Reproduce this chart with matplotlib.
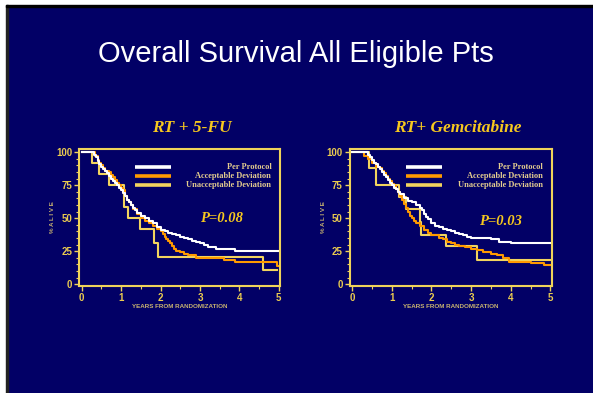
import matplotlib
matplotlib.use('Agg')
import matplotlib.pyplot as plt
from matplotlib.patches import Rectangle
from matplotlib.ticker import MultipleLocator

# --- данные ---
title = 'Overall Survival All Eligible Pts'
panel_titles = ['RT + 5-FU', 'RT+ Gemcitabine']
p_values = ['P=0.08', 'P=0.03']
legend_labels = ['Per Protocol', 'Acceptable Deviation', 'Unacceptable Deviation']

# RT + 5-FU
fu_pp_t = [0, 0.3, 0.35, 0.4, 0.45, 0.5, 0.55, 0.6, 0.65, 0.7, 0.75, 0.8, 0.85, 0.9, 0.95, 1.0, 1.05, 1.1,
           1.15, 1.2, 1.25, 1.3, 1.35, 1.4, 1.5, 1.6, 1.7, 1.8, 1.9, 2.0, 2.1, 2.2, 2.3, 2.4, 2.5, 2.6,
           2.7, 2.8, 2.9, 3.0, 3.1, 3.2, 3.4, 3.6, 3.9, 5.0]
fu_pp_s = [100, 98, 96, 93, 91, 89, 87, 86, 84, 82, 80, 78, 77, 75, 73, 71, 69, 67,
           64, 62, 60, 58, 56, 54, 52, 50, 48, 46, 43, 41, 40, 39, 38, 37, 36, 35,
           34, 33, 32, 31, 30, 28, 27, 27, 25, 25]
fu_acc_t = [0, 0.33, 0.4, 0.45, 0.5, 0.55, 0.6, 0.7, 0.75, 0.8, 0.85, 0.9, 0.95, 1.0, 1.05, 1.1, 1.15,
            1.2, 1.25, 1.3, 1.4, 1.5, 1.6, 1.7, 1.8, 1.9, 2.0, 2.05, 2.1, 2.15, 2.2, 2.25, 2.3, 2.35,
            2.4, 2.5, 2.6, 2.7, 2.9, 3.6, 3.9, 4.95, 5.0]
fu_acc_s = [100, 97, 94, 92, 90, 88, 86, 85, 83, 81, 79, 77, 75, 73, 71, 67, 64,
            62, 60, 57, 53, 50, 48, 46, 44, 42, 40, 38, 36, 34, 33, 31, 29, 27,
            25, 24, 23, 22, 20, 18.5, 17, 14, 14]
fu_un_t = [0, 0.27, 0.45, 0.7, 1.07, 1.18, 1.48, 1.83, 1.93, 4.61, 4.95]
fu_un_s = [100, 91.7, 83.3, 75, 58.3, 50, 41.7, 31.5, 20.8, 10.4, 10.4]

# RT + Gemcitabine
gem_pp_t = [0, 0.4, 0.45, 0.5, 0.55, 0.6, 0.65, 0.7, 0.75, 0.8, 0.85, 0.9, 0.95, 1.0, 1.05, 1.1, 1.15,
            1.2, 1.3, 1.4, 1.5, 1.6, 1.7, 1.75, 1.8, 1.85, 1.9, 2.0, 2.1, 2.2, 2.3, 2.4, 2.5, 2.6,
            2.7, 2.8, 2.9, 3.0, 3.5, 3.7, 4.0, 5.0]
gem_pp_s = [100, 98, 96, 94, 92, 91, 89, 87, 85, 83, 81, 79, 77, 75, 73, 72, 70,
            68, 65, 63, 62, 60, 58, 56, 53, 51, 49, 46, 44, 43, 42, 41, 40, 39,
            38, 37, 36, 35, 34, 32, 31, 31]
gem_acc_t = [0, 0.3, 0.4, 0.5, 0.6, 0.7, 0.75, 0.8, 0.85, 0.9, 0.95, 1.0, 1.05, 1.1, 1.15, 1.2, 1.25,
             1.3, 1.35, 1.4, 1.45, 1.5, 1.55, 1.6, 1.7, 1.8, 1.9, 2.0, 2.1, 2.2, 2.3, 2.4, 2.5, 2.6,
             2.7, 2.85, 3.0, 3.15, 3.3, 3.5, 3.65, 3.8, 3.95, 4.5, 4.85, 5.0]
gem_acc_s = [100, 97, 95, 92, 89, 88, 86, 84, 82, 80, 78, 76, 74, 72, 70, 67, 64,
             61, 58, 55, 52, 50, 48, 46, 44, 41, 39, 37, 37, 35, 34, 32, 31, 30,
             29, 28, 27, 26, 24, 23, 22, 20, 17, 16, 14.5, 14.5]
gem_un_t = [0, 0.43, 0.6, 1.18, 1.35, 1.71, 1.74, 2.37, 3.15, 5.0]
gem_un_s = [100, 88, 75, 66, 57, 47, 37.5, 29, 18.5, 18.5]

panels = [
    [(fu_pp_t, fu_pp_s), (fu_acc_t, fu_acc_s), (fu_un_t, fu_un_s)],
    [(gem_pp_t, gem_pp_s), (gem_acc_t, gem_acc_s), (gem_un_t, gem_un_s)],
]

navy = '#020066'
frame_col = '#EFD35A'
tick_col = '#EACB50'
lab_col = '#C9B470'
leg_txt = '#E3CC8E'
gold = '#F7C81E'
line_cols = ['#FFFFFF', '#FF9A00', '#F2D45E']

fig = plt.figure(figsize=(5.93, 3.93), dpi=100, facecolor=navy)
W, H = 593, 393

# белая рамка слайда слева и сверху
fig.patches.append(Rectangle((0, 0), 6 / W, 1, transform=fig.transFigure, color='white', zorder=0))
fig.patches.append(Rectangle((0, 1 - 5 / H), 1, 5 / H, transform=fig.transFigure, color='white', zorder=0))
fig.patches.append(Rectangle((6 / W, 0), 2 / W, 1 - 5 / H, transform=fig.transFigure, color='#222222', zorder=0))
fig.patches.append(Rectangle((6 / W, 1 - 6.5 / H), 1, 1.5 / H, transform=fig.transFigure, color='black', zorder=0))

fig.text(296 / W, 1 - 54 / H, title, color='white', fontsize=21, family='Liberation Sans',
         ha='center', va='center')

lefts = [79, 349.5]
widths = [201, 202]
title_x = [192, 458]
p_pos = [(3.55, 49.4), (3.75, 47.3)]

for i in range(2):
    ax = fig.add_axes([lefts[i] / W, 1 - 286 / H, widths[i] / W, 137 / H])
    ax.set_facecolor(navy)
    # сначала неприемлемое, потом приемлемое, потом протокол
    for k in [2, 1, 0]:
        t, s = panels[i][k]
        ax.plot(t, s, drawstyle='steps-post', color=line_cols[k], lw=1.5)
    ax.set_xlim(-0.07, 5.03)
    ax.set_ylim(-1.4, 102.4)
    for sp in ax.spines.values():
        sp.set_color(frame_col)
        sp.set_linewidth(1.5)
    ax.xaxis.set_major_locator(MultipleLocator(1))
    ax.xaxis.set_minor_locator(MultipleLocator(0.5))
    ax.yaxis.set_major_locator(MultipleLocator(25))
    ax.yaxis.set_minor_locator(MultipleLocator(5))
    ax.tick_params(which='major', length=3.5, width=1, color=frame_col, labelcolor=tick_col,
                   labelsize=7, pad=1.5)
    ax.tick_params(which='minor', length=2, width=0.8, color=frame_col)
    for lb in ax.get_xticklabels() + ax.get_yticklabels():
        lb.set_fontweight('bold')
        lb.set_family('Liberation Sans')
    ax.set_xlabel('YEARS FROM RANDOMIZATION', color=lab_col, fontsize=4.5, fontweight='bold',
                  family='Liberation Sans', labelpad=0.5)
    ax.set_ylabel('% A L I V E', color=lab_col, fontsize=4.5, fontweight='bold',
                  family='Liberation Sans', labelpad=0.5)

    # легенда вручную
    for k, (lbl, yy) in enumerate(zip(legend_labels, [88.7, 81.9, 75.1])):
        ax.plot([1.35, 2.27], [yy, yy], color=line_cols[k], lw=2.6, solid_capstyle='butt')
        ax.text(4.81, yy, lbl, color=leg_txt, fontsize=6, fontweight='bold',
                family='Liberation Serif', ha='right', va='center')

    ax.text(p_pos[i][0], p_pos[i][1], p_values[i], color=gold, fontsize=10.5, fontweight='bold',
            style='italic', family='Liberation Serif', ha='center', va='center')

    fig.text(title_x[i] / W, 1 - 128 / H, panel_titles[i], color=gold, fontsize=12.5,
             fontweight='bold', style='italic', family='Liberation Serif', ha='center', va='center')

fig.savefig('out.png', dpi=100, facecolor=navy)
